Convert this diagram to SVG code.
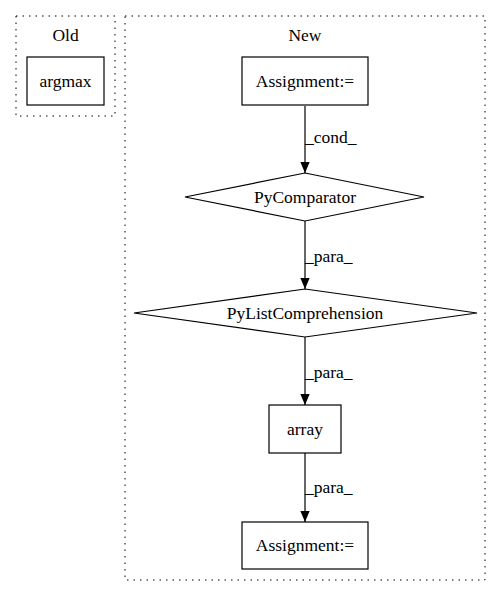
<svg xmlns="http://www.w3.org/2000/svg" width="501" height="596" viewBox="0 0 501 596">
<style>
text{font-family:"Liberation Serif","Times New Roman",serif;font-size:17.5px;fill:#000}
.c{text-anchor:middle}
.cl{fill:none;stroke:#000;stroke-dasharray:1.5,5}
.n{fill:#fff;stroke:#000;stroke-width:1.2}
.e{fill:none;stroke:#000;stroke-width:1.2}
</style>
<defs>
<marker id="ah" markerWidth="11" markerHeight="13" refX="13" refY="5.5" orient="auto" markerUnits="userSpaceOnUse" viewBox="0 0 13 11">
<path d="M0,0 L13,5.5 L0,11 Z" fill="#000"/>
</marker>
</defs>
<rect width="501" height="596" fill="#fff"/>
<g id="cluster_old">
<rect class="cl" x="16" y="16" width="99" height="100"/>
<text class="c" x="65.5" y="41">Old</text>
</g>
<g id="cluster_new">
<rect class="cl" x="125" y="16" width="360" height="564"/>
<text class="c" x="305" y="41">New</text>
</g>
<g id="edges">
<path class="e" d="M305,106 L305,173" marker-end="url(#ah)"/>
<text x="305" y="143">_cond_</text>
<path class="e" d="M305,221 L305,289" marker-end="url(#ah)"/>
<text x="305" y="262">_para_</text>
<path class="e" d="M305,337 L305,405" marker-end="url(#ah)"/>
<text x="305" y="378">_para_</text>
<path class="e" d="M305,453 L305,522" marker-end="url(#ah)"/>
<text x="305" y="493">_para_</text>
</g>
<g id="argmax">
<rect class="n" x="27" y="57" width="77" height="48"/>
<text class="c" x="65.5" y="87">argmax</text>
</g>
<g id="assign1">
<rect class="n" x="242" y="57" width="126" height="48"/>
<text class="c" x="305" y="87">Assignment:=</text>
</g>
<g id="pycomparator">
<polygon class="n" points="305,173 424,197 305,221 185,197"/>
<text class="c" x="305" y="203">PyComparator</text>
</g>
<g id="pylistcomp">
<polygon class="n" points="305,289 477,313 305,337 134,313"/>
<text class="c" x="305" y="319">PyListComprehension</text>
</g>
<g id="array">
<rect class="n" x="269" y="405" width="72" height="48"/>
<text class="c" x="305" y="435">array</text>
</g>
<g id="assign2">
<rect class="n" x="242" y="522" width="126" height="47"/>
<text class="c" x="305" y="551">Assignment:=</text>
</g>
</svg>
